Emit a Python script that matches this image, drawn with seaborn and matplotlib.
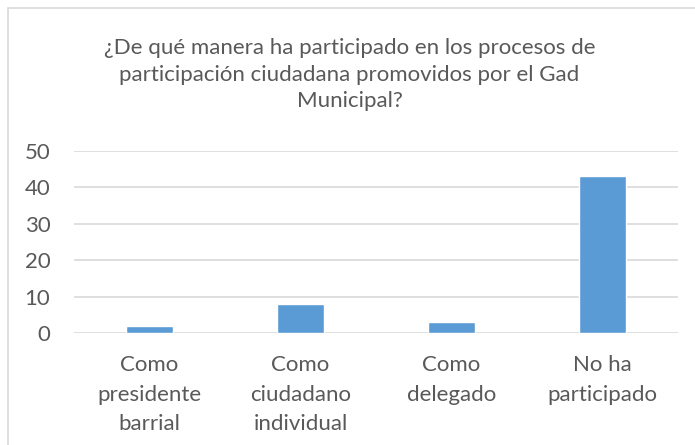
import matplotlib
matplotlib.use("Agg")

import matplotlib.pyplot as plt  # noqa: E402
import pandas as pd              # noqa: E402
import seaborn as sns            # noqa: E402
from matplotlib.patches import Rectangle  # noqa: E402

# data
categories = [
    "Como\npresidente\nbarrial",
    "Como\nciudadano\nindividual",
    "Como\ndelegado",
    "No ha\nparticipado",
]
counts = [2, 8, 3, 43]
y_ticks = [0, 10, 20, 30, 40, 50]
title = ("¿De qué manera ha participado en los procesos de\n"
         "participación ciudadana promovidos por el Gad\nMunicipal?")

TEXT = "#595959"
GRID = "#D9D9D9"
BAR = "#5B9BD5"

sns.set_theme(style="white")
plt.rcParams["font.family"] = ["Lato", "DejaVu Sans"]

df = pd.DataFrame({"categoria": categories, "n": counts})

fig = plt.figure(figsize=(6.95, 4.45), dpi=100)
ax = fig.add_axes([0.1065, 0.2517, 0.869, 0.409])

sns.barplot(data=df, x="categoria", y="n", color=BAR, saturation=1,
            width=0.31, ax=ax)

ax.set_ylim(0, 50)
ax.set_yticks(y_ticks)
ax.yaxis.grid(True, color=GRID, lw=1.2)
ax.set_axisbelow(True)
for s in ax.spines.values():
    s.set_visible(False)
ax.set_xlabel("")
ax.set_ylabel("")
ax.tick_params(axis="y", length=0, pad=17, labelsize=16, labelcolor=TEXT)
ax.tick_params(axis="x", length=0, pad=16, labelsize=16, labelcolor=TEXT)
for lab in ax.get_xticklabels():
    lab.set_linespacing(1.6)

fig.text(0.503, 0.915, title, ha="center", va="top", fontsize=16,
         color=TEXT, linespacing=1.42)

# chart-area border (only top and left visible in the crop)
fig.patches.append(Rectangle((8 / 695, -0.1), 1.2, 1.1 - 8 / 445,
                             transform=fig.transFigure, fill=False,
                             edgecolor=GRID, lw=1.2))

fig.savefig("out.png", dpi=100)
